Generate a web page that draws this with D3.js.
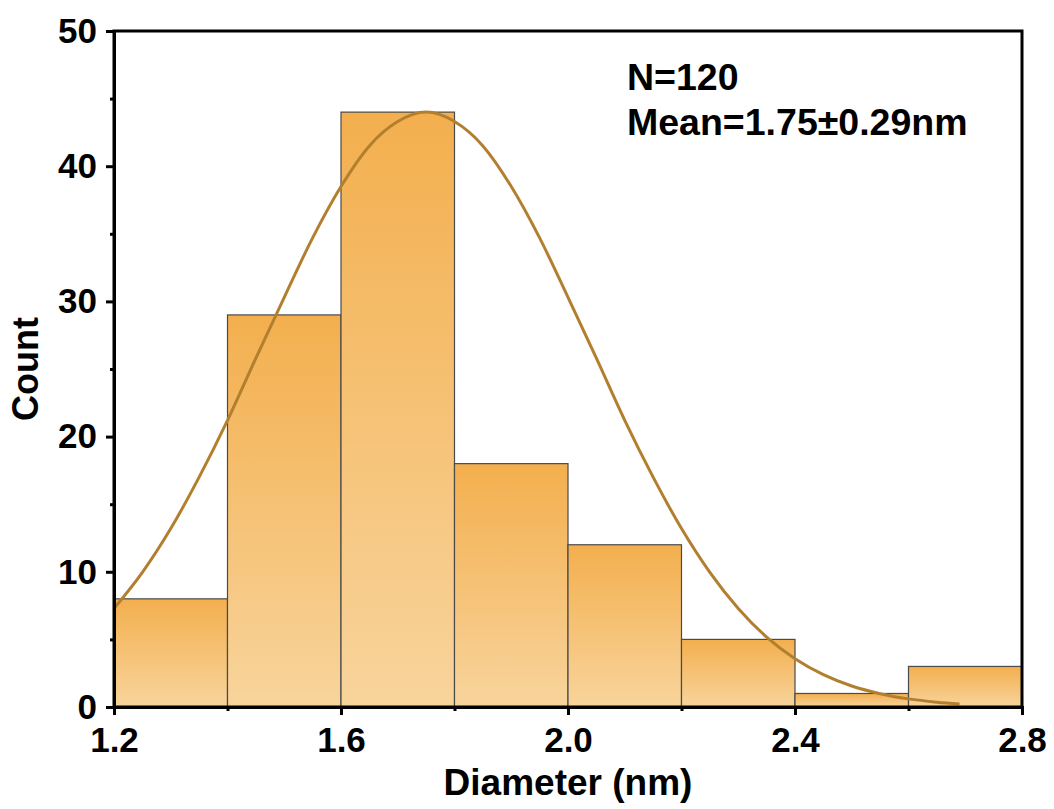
<!DOCTYPE html>
<html><head><meta charset="utf-8">
<script src="https://cdn.jsdelivr.net/npm/d3@7"></script>
<style>body{margin:0;background:#fff}svg{display:block}text{font-family:"Liberation Sans",Arial,sans-serif;font-weight:bold}</style>
</head><body>
<script>
const binStarts = [1.2, 1.4, 1.6, 1.8, 2.0, 2.2, 2.4, 2.6];
const binWidth = 0.2;
const counts = [8, 29, 44, 18, 12, 5, 1, 3];
const fitX = [1.20,1.25,1.30,1.35,1.40,1.45,1.50,1.55,1.60,1.65,1.70,1.75,1.80,1.85,1.90,1.95,2.00,2.05,2.10,2.15,2.20,2.25,2.30,2.35,2.40,2.45,2.50,2.55,2.60,2.65,2.69];
const fitY = [7.29,9.96,13.2,17.0,21.2,25.8,30.3,34.7,38.5,41.5,43.3,44.0,43.3,41.5,38.5,34.7,30.3,25.8,21.2,17.0,13.2,9.96,7.29,5.17,3.57,2.39,1.55,0.98,0.60,0.36,0.23];
const xTicks = [1.2, 1.6, 2.0, 2.4, 2.8];
const xMinor = [1.4, 1.8, 2.2, 2.6];
const yTicks = [0, 10, 20, 30, 40, 50];
const yMinor = [5, 15, 25, 35, 45];
const annot = ["N=120", "Mean=1.75\u00b10.29nm"];

const W = 1054, H = 809;
const L = 114, R = 1022, T = 31, B = 707;
const svg = d3.select("body").append("svg").attr("width", W).attr("height", H);
const x = d3.scaleLinear().domain([1.2, 2.8]).range([L, R]);
const y = d3.scaleLinear().domain([0, 50]).range([B, T]);

const defs = svg.append("defs");
const g = defs.append("linearGradient").attr("id", "bg").attr("x1", 0).attr("y1", 0).attr("x2", 0).attr("y2", 1);
g.append("stop").attr("offset", "0%").attr("stop-color", "#F3AF4E");
g.append("stop").attr("offset", "100%").attr("stop-color", "#F8D49C");

svg.selectAll("rect.bar").data(counts).enter().append("rect").attr("class", "bar")
  .attr("x", (d, i) => x(binStarts[i]))
  .attr("width", (d, i) => x(binStarts[i] + binWidth) - x(binStarts[i]))
  .attr("y", d => y(d))
  .attr("height", d => B - y(d))
  .attr("fill", "url(#bg)")
  .attr("stroke", "#4a4a4a").attr("stroke-width", 1.2);

const line = d3.line().x((d, i) => x(fitX[i])).y(d => y(d)).curve(d3.curveMonotoneX);
svg.append("path").attr("d", line(fitY)).attr("fill", "none")
  .attr("stroke", "#B27F2F").attr("stroke-width", 3);

// frame
svg.append("rect").attr("x", L).attr("y", T).attr("width", R - L).attr("height", B - T)
  .attr("fill", "none").attr("stroke", "#000").attr("stroke-width", 3);

svg.append("g").attr("transform", `translate(0,${B})`)
  .call(d3.axisBottom(x).tickValues(xTicks).tickFormat(d3.format(".1f")).tickSize(8).tickPadding(12));
svg.append("g").attr("transform", `translate(0,${B})`)
  .call(d3.axisBottom(x).tickValues(xMinor).tickFormat("").tickSize(4));
svg.append("g").attr("transform", `translate(${L},0)`)
  .call(d3.axisLeft(y).tickValues(yTicks).tickSize(8).tickPadding(9));
svg.append("g").attr("transform", `translate(${L},0)`)
  .call(d3.axisLeft(y).tickValues(yMinor).tickFormat("").tickSize(4));
svg.selectAll(".domain").attr("stroke", "#000").attr("stroke-width", 3);
svg.selectAll(".tick line").attr("stroke", "#000").attr("stroke-width", 3);
svg.selectAll(".tick text").attr("font-size", 35).attr("font-family", "Liberation Sans, Arial, sans-serif").attr("font-weight", "bold").attr("fill", "#000");

svg.append("text").attr("x", (L + R) / 2).attr("y", 795).attr("text-anchor", "middle")
  .attr("font-size", 37).text("Diameter (nm)");
svg.append("text").attr("transform", `translate(38,${(T + B) / 2}) rotate(-90)`).attr("text-anchor", "middle")
  .attr("font-size", 36).text("Count");

svg.selectAll("text.ann").data(annot).enter().append("text").attr("class", "ann")
  .attr("x", 627).attr("y", (d, i) => 90 + i * 45).attr("font-size", 37.5).text(d => d);
</script>
</body></html>
